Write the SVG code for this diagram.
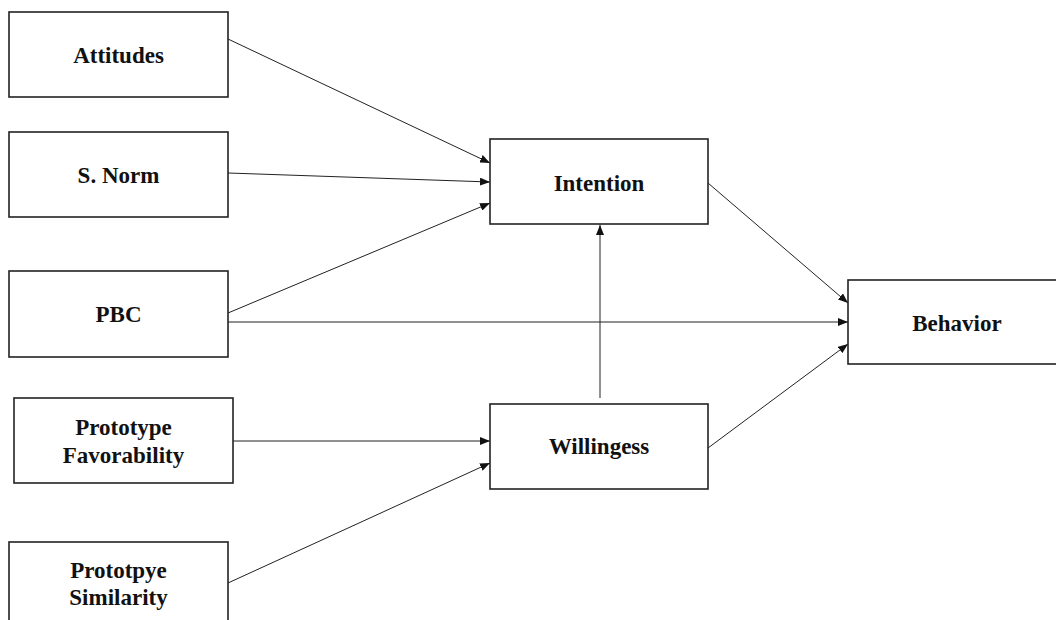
<svg xmlns="http://www.w3.org/2000/svg" width="1056" height="620" viewBox="0 0 1056 620">
  <style>
    .box { fill: #ffffff; stroke: #222222; stroke-width: 1.6; }
    .lbl { font-family: "Liberation Serif", "Times New Roman", serif; font-weight: bold; font-size: 23px; fill: #111111; text-anchor: middle; }
    .edge { stroke: #222222; stroke-width: 1; fill: none; marker-end: url(#arrow); }
  </style>
  <defs>
    <marker id="arrow" viewBox="0 0 10 8" refX="10" refY="4" markerWidth="10" markerHeight="8" markerUnits="userSpaceOnUse" orient="auto">
      <path d="M0,0 L10,4 L0,8 Z" fill="#111111"/>
    </marker>
  </defs>
  <rect width="1056" height="620" fill="#ffffff"/>

  <!-- connectors -->
  <g id="connectors">
    <line class="edge" x1="228" y1="39" x2="490" y2="163"/>
    <line class="edge" x1="228" y1="173" x2="490" y2="182"/>
    <line class="edge" x1="228" y1="313" x2="490" y2="203"/>
    <line class="edge" x1="228" y1="322" x2="848" y2="322"/>
    <line class="edge" x1="233" y1="441" x2="490" y2="441"/>
    <line class="edge" x1="228" y1="583" x2="490" y2="463"/>
    <line class="edge" x1="600" y1="398" x2="600" y2="225"/>
    <line class="edge" x1="708" y1="183" x2="848" y2="303"/>
    <line class="edge" x1="708" y1="448" x2="848" y2="344"/>
  </g>

  <!-- nodes -->
  <g id="attitudes">
    <rect class="box" x="9" y="12" width="219" height="85"/>
    <text class="lbl" x="118.5" y="63">Attitudes</text>
  </g>
  <g id="s-norm">
    <rect class="box" x="9" y="132" width="219" height="85"/>
    <text class="lbl" x="118.5" y="183">S. Norm</text>
  </g>
  <g id="pbc">
    <rect class="box" x="9" y="271" width="219" height="86"/>
    <text class="lbl" x="118.5" y="322">PBC</text>
  </g>
  <g id="prototype-favorability">
    <rect class="box" x="14" y="398" width="219" height="85"/>
    <text class="lbl" x="123.5" y="435">Prototype</text>
    <text class="lbl" x="123.5" y="463">Favorability</text>
  </g>
  <g id="prototype-similarity">
    <rect class="box" x="9" y="542" width="219" height="85"/>
    <text class="lbl" x="118.5" y="578">Prototpye</text>
    <text class="lbl" x="118.5" y="605">Similarity</text>
  </g>
  <g id="intention">
    <rect class="box" x="490" y="139" width="218" height="85"/>
    <text class="lbl" x="599" y="191">Intention</text>
  </g>
  <g id="willingess">
    <rect class="box" x="490" y="404" width="218" height="85"/>
    <text class="lbl" x="599" y="454">Willingess</text>
  </g>
  <g id="behavior">
    <rect class="box" x="848" y="280" width="220" height="84"/>
    <text class="lbl" x="957" y="331">Behavior</text>
  </g>
</svg>
